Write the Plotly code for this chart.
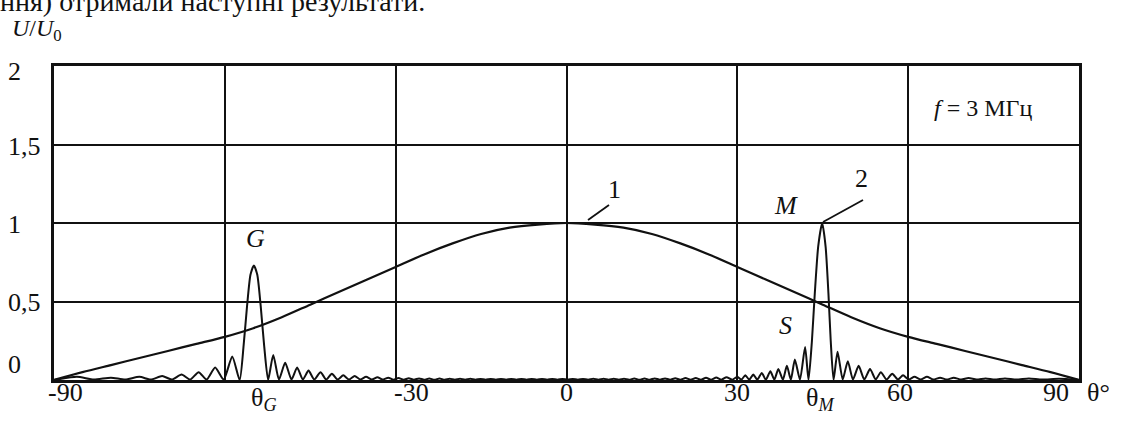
import plotly.graph_objects as go

# ---------------- data ----------------
# curve 1: broad element pattern
theta1 = [-90, -85, -80, -75, -70, -65, -60, -55, -50, -45, -40, -35, -30, -25, -20, -15, -10, -5, 0,
          5, 10, 15, 20, 25, 30, 35, 40, 45, 50, 55, 60, 65, 70, 75, 80, 85, 90]
u1 = [0.0, 0.05, 0.095, 0.14, 0.185, 0.23, 0.275, 0.33, 0.40, 0.48, 0.56, 0.64, 0.72, 0.80, 0.87, 0.93, 0.97, 0.99, 1.0,
      0.99, 0.97, 0.93, 0.87, 0.80, 0.72, 0.64, 0.56, 0.48, 0.40, 0.33, 0.275, 0.23, 0.185, 0.14, 0.095, 0.05, 0.0]

# curve 2: array pattern with main lobe M and grating lobe G
theta2 = [-90, -86, -83, -80, -77.5, -75, -73, -71, -69.3, -67.6, -66.1, -64.6, -63.2, -61.7, -60.2, -58.7, -57.4,
          -56.7, -56.1, -55.5, -54.9, -54.3, -53.7, -53.1, -52.4,
          -51.5, -50.5, -49.4, -48.3, -47.3, -46.3, -45.3, -44.3, -43.2, -42.2, -41.2, -40.2, -39.2, -38.2,
          -37.2, -36.2, -35.2, -34.2, -33.2, -32.3, -31.3, -30.4, -29.5, -28.6, -27.7, -26.8, -25.9, -25.0,
          -24.1, -23.2, -22.3, -21.4, -20.5, -19.6, -18.7, -17.8, -16.9, -16.0, -15.1, -14.2, -13.3, -12.4,
          -11.5, -10.6, -9.7, -8.8, -7.9, -7.0, -6.1, -5.2, -4.3, -3.4, -2.5, -1.6, -0.7, 0.2, 1.1, 2.0,
          2.9, 3.8, 4.7, 5.6, 6.5, 7.4, 8.3, 9.2, 10.1, 11.0, 11.9, 12.8, 13.7, 14.6, 15.5, 16.4, 17.3, 18.2,
          19.1, 20.0, 20.9, 21.8, 22.7, 23.6, 24.5, 25.4, 26.3, 27.2, 28.1, 29.1, 30.0, 30.7, 31.4, 32.1,
          32.8, 33.5, 34.3, 35.0, 35.8, 36.5, 37.2, 38.0, 38.7, 39.4, 40.1, 41.0, 41.9, 42.5,
          43.1, 43.6, 44.2, 44.9, 45.5, 46.0, 46.4, 46.9,
          47.6, 48.5, 49.4, 50.3, 51.3, 52.3, 53.3, 54.3, 55.2, 56.2, 57.2, 58.2, 59.1, 60.1, 61.1, 62.2,
          63.3, 64.4, 65.6, 66.8, 68.0, 69.3, 70.6, 72.0, 73.6, 75.2, 77.0, 79.0, 81.2, 83.5, 86.5, 90]
u2 = [0.0, 0.02, 0.003, 0.015, 0.003, 0.02, 0.003, 0.025, 0.003, 0.035, 0.003, 0.05, 0.003, 0.08, 0.003, 0.15, 0.0,
      0.22, 0.47, 0.67, 0.73, 0.67, 0.47, 0.22, 0.0,
      0.16, 0.003, 0.11, 0.003, 0.08, 0.003, 0.06, 0.003, 0.05, 0.003, 0.04, 0.003, 0.03, 0.003,
      0.025, 0.003, 0.02, 0.003, 0.018, 0.003, 0.015, 0.002, 0.012, 0.002, 0.011, 0.002, 0.010, 0.002,
      0.009, 0.002, 0.009, 0.002, 0.008, 0.002, 0.008, 0.002, 0.008, 0.002, 0.007, 0.002, 0.007, 0.002,
      0.007, 0.002, 0.007, 0.002, 0.007, 0.002, 0.007, 0.002, 0.007, 0.002, 0.007, 0.002, 0.007, 0.002, 0.007, 0.002,
      0.007, 0.002, 0.008, 0.002, 0.008, 0.002, 0.008, 0.002, 0.008, 0.002, 0.009, 0.002, 0.009, 0.002, 0.010, 0.002, 0.010, 0.002,
      0.011, 0.002, 0.012, 0.002, 0.013, 0.002, 0.014, 0.002, 0.016, 0.002, 0.018, 0.002, 0.02, 0.002, 0.03, 0.002,
      0.035, 0.002, 0.045, 0.002, 0.055, 0.002, 0.07, 0.002, 0.09, 0.002, 0.13, 0.002, 0.21, 0.0,
      0.25, 0.55, 0.85, 1.0, 0.85, 0.55, 0.25, 0.0,
      0.18, 0.003, 0.12, 0.003, 0.09, 0.003, 0.07, 0.003, 0.05, 0.003, 0.04, 0.003, 0.03, 0.003, 0.02, 0.003,
      0.02, 0.003, 0.015, 0.003, 0.015, 0.003, 0.012, 0.003, 0.01, 0.003, 0.01, 0.003, 0.01, 0.003, 0.008, 0.0]

x_grid = [-90, -60, -30, 0, 30, 60, 90]
x_tick_text = ["-90", "-30", "0", "30", "60", "90"]
x_tick_pos = [-87.9, -27.3, 0, 30, 58.6, 86.0]
y_tick_vals = [0, 0.5, 1, 1.5, 2]
y_tick_text = ["0", "0,5", "1", "1,5", "2"]
theta_G = -53.2
theta_M = 44.5

# ---------------- layout geometry ----------------
W, H = 1123, 430
L, R, T, B = 54, 44, 66, 50
PW, PH = W - L - R, H - T - B

def dx(px):  # pixel x -> data theta
    return -90 + (px - L) / PW * 180

def dy(py):  # pixel y -> data value
    return (T + PH - py) / PH * 2

def px_paper_x(px):
    return (px - L) / PW

def px_paper_y(py):
    return (T + PH - py) / PH

FONT = "Liberation Serif, Times New Roman, DejaVu Serif, serif"
BLACK = "#111111"

fig = go.Figure()
fig.add_trace(go.Scatter(x=theta1, y=u1, mode="lines",
                         line=dict(color=BLACK, width=2.2, shape="spline", smoothing=0.8),
                         showlegend=False, hoverinfo="skip"))
fig.add_trace(go.Scatter(x=theta2, y=u2, mode="lines",
                         line=dict(color=BLACK, width=2.0, shape="spline", smoothing=0.6),
                         showlegend=False, hoverinfo="skip"))

ann = []
fs = 26
for t, xp in zip(x_tick_text, x_tick_pos):
    ann.append(dict(x=xp, y=px_paper_y(392), xref="x", yref="paper", text=t, showarrow=False,
                    font=dict(family=FONT, size=fs, color=BLACK), xanchor="center", yanchor="middle"))
ann.append(dict(x=theta_G, y=px_paper_y(399), xref="x", yref="paper", text="θ<sub><i>G</i></sub>",
                showarrow=False, font=dict(family=FONT, size=fs, color=BLACK), xanchor="center", yanchor="middle"))
ann.append(dict(x=theta_M, y=px_paper_y(399), xref="x", yref="paper", text="θ<sub><i>M</i></sub>",
                showarrow=False, font=dict(family=FONT, size=fs, color=BLACK), xanchor="center", yanchor="middle"))
ann.append(dict(x=px_paper_x(1098), y=px_paper_y(392), xref="paper", yref="paper", text="θ°",
                showarrow=False, font=dict(family=FONT, size=fs, color=BLACK), xanchor="center", yanchor="middle"))
yshift = {0: 16, 0.5: -1, 1: -1, 1.5: -2, 2: -5}
for v, t in zip(y_tick_vals, y_tick_text):
    ann.append(dict(x=px_paper_x(6), y=v, xref="paper", yref="y", text=t, showarrow=False, yshift=yshift[v],
                    font=dict(family=FONT, size=fs, color=BLACK), xanchor="left", yanchor="middle"))
ann.append(dict(x=px_paper_x(10), y=px_paper_y(30), xref="paper", yref="paper",
                text="<i>U</i>/<i>U</i><sub>0</sub>", showarrow=False,
                font=dict(family=FONT, size=24, color=BLACK), xanchor="left", yanchor="middle"))
ann.append(dict(x=px_paper_x(-2), y=px_paper_y(19), xref="paper", yref="paper",
                text="ння) отримали наступні результати.", showarrow=False,
                font=dict(family=FONT, size=28, color=BLACK), xanchor="left", yanchor="bottom"))
# curve / point labels
for txt, px, py in [("1", 614, 189), ("2", 861, 178), ("<i>G</i>", 255, 238), ("<i>M</i>", 786, 205),
                    ("<i>S</i>", 785, 325)]:
    ann.append(dict(x=dx(px), y=dy(py), xref="x", yref="y", text=txt, showarrow=False,
                    font=dict(family=FONT, size=fs, color=BLACK), xanchor="center", yanchor="middle"))
ann.append(dict(x=dx(932), y=dy(108), xref="x", yref="y", text="<i>f</i> = 3 МГц", showarrow=False,
                font=dict(family=FONT, size=24, color=BLACK), xanchor="left", yanchor="middle"))

shapes = [
    dict(type="line", xref="x", yref="y", x0=dx(588), y0=dy(220), x1=dx(609), y1=dy(205),
         line=dict(color=BLACK, width=1.8)),
    dict(type="line", xref="x", yref="y", x0=dx(823), y0=dy(222), x1=dx(863), y1=dy(200),
         line=dict(color=BLACK, width=1.8)),
]

fig.update_layout(
    width=W, height=H, margin=dict(l=L, r=R, t=T, b=B),
    paper_bgcolor="white", plot_bgcolor="white",
    annotations=ann, shapes=shapes,
    xaxis=dict(range=[-90, 90], tickvals=x_grid, showticklabels=False, ticks="",
               showgrid=True, gridcolor=BLACK, gridwidth=2, zeroline=False,
               showline=True, linecolor=BLACK, linewidth=2.5, mirror=True, fixedrange=True),
    yaxis=dict(range=[0, 2], tickvals=y_tick_vals, showticklabels=False, ticks="",
               showgrid=True, gridcolor=BLACK, gridwidth=2, zeroline=False,
               showline=True, linecolor=BLACK, linewidth=2.5, mirror=True, fixedrange=True),
)

fig.write_html("out.html", config={"displayModeBar": False},
               post_script="document.body.style.margin='0px';document.body.style.overflow='hidden';")
